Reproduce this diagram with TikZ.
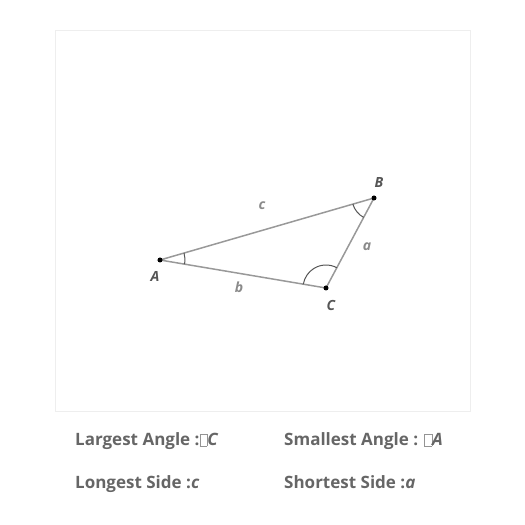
\documentclass[tikz,border=0pt]{standalone}
\usepackage{fontspec}
\setmainfont{Open Sans}
\usetikzlibrary{angles}
\definecolor{txtgray}{HTML}{666666}
\definecolor{lblgray}{HTML}{555555}
\definecolor{sidegray}{HTML}{8A8A8A}
\definecolor{linegray}{HTML}{999999}
\definecolor{framegray}{HTML}{EEEEEE}
\newcommand\tofu{{\color{txtgray!70}\fboxsep=0pt\fboxrule=0.4pt\fbox{\rule{0pt}{0.68em}\hspace{0.42em}}}}
\tikzset{
  vertex/.style={circle, fill=black, inner sep=0pt, minimum size=5pt},
  vlabel/.style={font=\fontsize{14}{16}\selectfont\bfseries\itshape, text=lblgray},
  slabel/.style={font=\fontsize{14}{16}\selectfont\bfseries\itshape, text=sidegray},
  info/.style={font=\fontsize{17}{20}\selectfont\bfseries, text=txtgray, anchor=base west, inner sep=0pt},
  anglearc/.style={draw=lblgray, line width=1pt}
}
\begin{document}
\begin{tikzpicture}[x=1pt, y=1pt]
 \useasboundingbox (0,0) rectangle (525,525);
 \draw[framegray, line width=1pt] (55.5,113) rectangle (470,494);
 \coordinate (A) at (160,265);
 \coordinate (B) at (374,327);
 \coordinate (C) at (326,237);
 \draw[linegray, line width=1.5pt] (A) -- (B) -- (C) -- cycle;
 \pic[anglearc, angle radius=25pt] {angle=C--A--B};
 \pic[anglearc, angle radius=22pt] {angle=A--B--C};
 \pic[anglearc, angle radius=23pt] {angle=B--C--A};
 \node[vertex] (a) at (A) {};
 \node[vertex] (b) at (B) {};
 \node[vertex] (c) at (C) {};
 \node[vlabel] (la) at (155,249) {A};
 \node[vlabel] (lb) at (379,342) {B};
 \node[vlabel] (lc) at (331,220) {C};
 \node[slabel] (sc) at (262,319) {c};
 \node[slabel] (sa) at (367,278) {a};
 \node[slabel] (sb) at (239,238) {b};
 \node[info] (lgang) at (75,79) {Largest Angle :\tofu\textit{C}};
 \node[info] (smang) at (284,79) {Smallest Angle : \tofu\textit{A}};
 \node[info] (lgside) at (75,36) {Longest Side :\textit{c}};
 \node[info] (shside) at (284,36) {Shortest Side :\textit{a}};
\end{tikzpicture}
\end{document}
